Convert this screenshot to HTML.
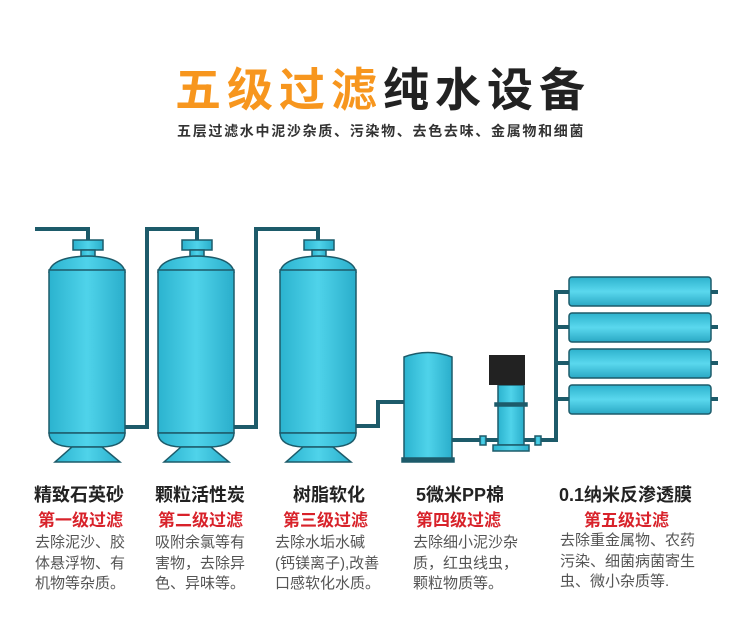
<!DOCTYPE html>
<html><head><meta charset="utf-8"><style>
body{margin:0;background:#fff;width:750px;height:634px;overflow:hidden;position:relative;font-family:"Liberation Sans","Noto Sans CJK SC",sans-serif}
.t{position:absolute;white-space:nowrap}
.h{font-size:18px;font-weight:bold;color:#222}
.r{font-size:17px;font-weight:bold;color:#d8222a}
.g{font-size:15px;color:#555;line-height:20.5px}
</style></head><body>
<div class="t" style="left:175px;top:54px;font-size:46px;font-weight:bold;letter-spacing:6px;color:#222"><span style="color:#f7961e">五级过滤</span>纯水设备</div>
<div class="t" style="left:177px;top:121px;font-size:14px;font-weight:bold;letter-spacing:1.7px;color:#333">五层过滤水中泥沙杂质、污染物、去色去味、金属物和细菌</div>
<svg width="750" height="634" style="position:absolute;left:0;top:0">
<defs>
<linearGradient id="b" x1="0" x2="1"><stop offset="0" stop-color="#2bb3cf"/><stop offset=".5" stop-color="#4fd3ea"/><stop offset="1" stop-color="#2aaecb"/></linearGradient>
<linearGradient id="m" x1="0" y1="0" x2="0" y2="1"><stop offset="0" stop-color="#2db2cd"/><stop offset=".5" stop-color="#5ad8ee"/><stop offset="1" stop-color="#2aa8c4"/></linearGradient>
</defs>
<g fill="none" stroke="#1d5b6a" stroke-width="4">
<path d="M35 229H88V241"/>
<path d="M125 427H147V229H197V241"/>
<path d="M233 427H256V229H318V241"/>
<path d="M355 426H378V402H404"/>
<path d="M452 440H556V292H570"/>
<path d="M556 327H570M556 363H570M556 399H570"/>
<path d="M710 292H718M710 327H718M710 363H718M710 399H718"/>
</g>
<g stroke="#1d5b6a" stroke-width="1.5" fill="url(#b)">
<g id="tk">
<rect x="73" y="240" width="30" height="10"/>
<rect x="81" y="250" width="14" height="7"/>
<path d="M49 272Q52 257 88 256Q122 257 125 272Z"/>
<rect x="49" y="270" width="76" height="163"/>
<path d="M49 433H125Q125 446 102 447H72Q49 446 49 433Z"/>
<path d="M72 447H102L120 462H55Z"/>
</g>
<use href="#tk" x="109"/>
<use href="#tk" x="231"/>
<path d="M404 357Q428 348 452 357V460H404Z"/>
<rect x="402" y="458" width="52" height="4" fill="#1d5b6a"/>
<rect x="498" y="385" width="26" height="60"/>
<rect x="495" y="403" width="32" height="3" fill="#1d5b6a"/>
<rect x="493" y="445" width="36" height="6"/>
<rect x="480" y="436" width="6" height="9"/>
<rect x="535" y="436" width="6" height="9"/>
</g>
<rect x="489" y="355" width="36" height="30" fill="#222"/>
<g stroke="#1d5b6a" stroke-width="1.5" fill="url(#m)">
<rect x="569" y="277" width="142" height="29" rx="3"/>
<rect x="569" y="313" width="142" height="29" rx="3"/>
<rect x="569" y="349" width="142" height="29" rx="3"/>
<rect x="569" y="385" width="142" height="29" rx="3"/>
</g>
</svg>
<div class="t h" style="left:34px;top:481px">精致石英砂</div>
<div class="t r" style="left:38px;top:506px">第一级过滤</div>
<div class="t g" style="left:35px;top:533px">去除泥沙、胶<br>体悬浮物、有<br>机物等杂质。</div>
<div class="t h" style="left:155px;top:481px">颗粒活性炭</div>
<div class="t r" style="left:158px;top:506px">第二级过滤</div>
<div class="t g" style="left:155px;top:533px">吸附余氯等有<br>害物，去除异<br>色、异味等。</div>
<div class="t h" style="left:293px;top:481px">树脂软化</div>
<div class="t r" style="left:283px;top:506px">第三级过滤</div>
<div class="t g" style="left:275px;top:533px">去除水垢水碱<br>(钙镁离子),改善<br>口感软化水质。</div>
<div class="t h" style="left:416px;top:481px">5微米PP棉</div>
<div class="t r" style="left:416px;top:506px">第四级过滤</div>
<div class="t g" style="left:413px;top:533px">去除细小泥沙杂<br>质，红虫线虫，<br>颗粒物质等。</div>
<div class="t h" style="left:559px;top:481px">0.1纳米反渗透膜</div>
<div class="t r" style="left:584px;top:506px">第五级过滤</div>
<div class="t g" style="left:560px;top:531px">去除重金属物、农药<br>污染、细菌病菌寄生<br>虫、微小杂质等.</div>
</body></html>
